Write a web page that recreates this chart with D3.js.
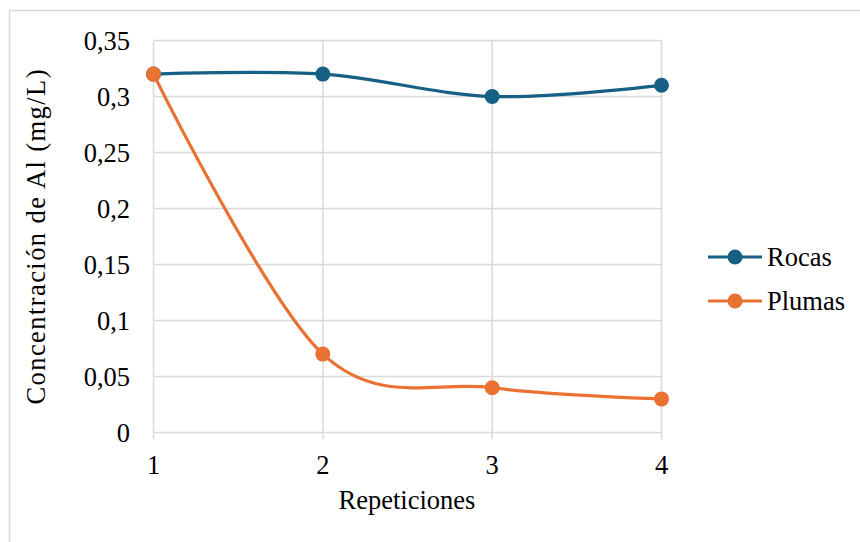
<!DOCTYPE html>
<html><head><meta charset="utf-8">
<script src="https://cdn.jsdelivr.net/npm/d3@7"></script>
<style>body{margin:0;background:#fff}</style>
</head><body><svg id="c" width="860" height="542" font-family="'Liberation Serif', 'Times New Roman', 'DejaVu Serif', serif"></svg>
<script>
const categories = [1, 2, 3, 4];
const rocas = [0.32, 0.32, 0.30, 0.31];
const plumas = [0.32, 0.07, 0.04, 0.03];
const yTicks = [0, 0.05, 0.1, 0.15, 0.2, 0.25, 0.3, 0.35];
const seriesNames = ["Rocas", "Plumas"];
const colors = ["#166086", "#E97132"];

const svg = d3.select("#c");
svg.append("rect").attr("x",9.5).attr("y",10.5).attr("width",870).attr("height",560)
  .attr("fill","#fff").attr("stroke","#d9d9d9").attr("stroke-width",1.5);

const x = d3.scaleLinear().domain([1,4]).range([153.5,661.5]);
const y = d3.scaleLinear().domain([0,0.35]).range([432.5,40.5]);
const fmt = v => String(+v.toFixed(2)).replace(".", ",");
const fs = 26.5;

const g = svg.append("g");
g.selectAll(".hg").data(yTicks).join("line")
  .attr("x1",x(1)).attr("x2",x(4)).attr("y1",d=>y(d)).attr("y2",d=>y(d))
  .attr("stroke","#d9d9d9").attr("stroke-width",1.5);
g.selectAll(".vg").data(categories).join("line")
  .attr("x1",d=>x(d)).attr("x2",d=>x(d)).attr("y1",y(0.35)).attr("y2",y(0)+7)
  .attr("stroke","#d9d9d9").attr("stroke-width",1.5);

g.selectAll(".yl").data(yTicks).join("text")
  .attr("x",130).attr("y",d=>y(d)).attr("dy","0.35em").attr("text-anchor","end")
  .attr("font-size",fs).text(fmt);
g.selectAll(".xl").data(categories).join("text")
  .attr("x",d=>x(d)).attr("y",465).attr("dy","0.35em").attr("text-anchor","middle")
  .attr("font-size",fs).text(d=>d);

svg.append("text").attr("transform","translate(36,237) rotate(-90)").attr("text-anchor","middle")
  .attr("dy","0.35em").attr("font-size",fs).attr("textLength",335).attr("lengthAdjust","spacing")
  .text("Concentración de Al (mg/L)");
svg.append("text").attr("x",407).attr("y",500).attr("text-anchor","middle")
  .attr("dy","0.35em").attr("font-size",fs).text("Repeticiones");

const line = d3.line().x((d,i)=>x(categories[i])).y(d=>y(d)).curve(d3.curveCardinal.tension(0));
[rocas, plumas].forEach((s,k)=>{
  svg.append("path").attr("d",line(s)).attr("fill","none").attr("stroke",colors[k]).attr("stroke-width",3.2);
});
[rocas, plumas].forEach((s,k)=>{
  svg.selectAll(".m"+k).data(s).join("circle")
    .attr("cx",(d,i)=>x(categories[i])).attr("cy",d=>y(d)).attr("r",7.5).attr("fill",colors[k]);
});

seriesNames.forEach((n,k)=>{
  const ly = 257 + k*44;
  svg.append("line").attr("x1",708).attr("x2",762).attr("y1",ly).attr("y2",ly)
    .attr("stroke",colors[k]).attr("stroke-width",3.2);
  svg.append("circle").attr("cx",735).attr("cy",ly).attr("r",7.5).attr("fill",colors[k]);
  svg.append("text").attr("x",767).attr("y",ly).attr("dy","0.35em").attr("font-size",fs).text(n);
});
</script></body></html>
